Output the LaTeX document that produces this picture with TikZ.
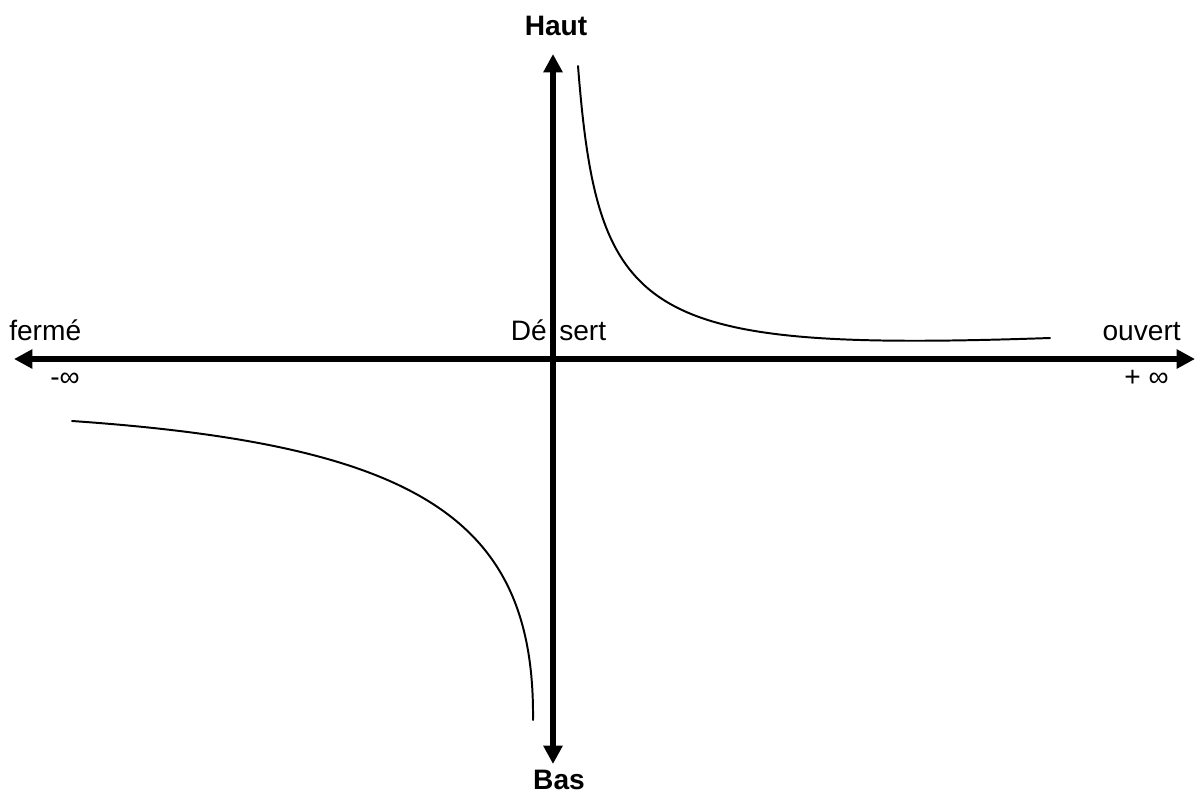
\documentclass[tikz,border=0pt]{standalone}
\usepackage{fontspec}
\setmainfont{Liberation Sans}
\usetikzlibrary{arrows.meta,positioning}
\tikzset{
  axisln/.style={{Triangle[length=13pt,width=13pt]}-{Triangle[length=13pt,width=13pt]}, line width=3.8pt},
  curveln/.style={line width=1.4pt, line cap=round, line join=round},
  lab/.style={inner sep=0pt, font=\fontsize{20}{24}\selectfont},
  blab/.style={lab, font=\fontsize{20}{24}\selectfont\bfseries},
}

\begin{document}
\begin{tikzpicture}[x=0.025cm, y=-0.025cm]
    \useasboundingbox (0,0) rectangle (1195,796);
    % ends of the two axes
    \coordinate (west) at (14,359);
    \coordinate (east) at (1195,359);
    \coordinate (top) at (553,54);
    \coordinate (bot) at (553,764);
    \draw[axisln] (west) -- (east);
    \draw[axisln] (bot) -- (top);
    % labels
    \node[blab, anchor=base] (haut) at (556,35) {Haut};
    \node[blab, anchor=base] (bas) at (559,789) {Bas};
    \node[lab, anchor=base west] (ferme) at (9,340) {fermé};
    \node[lab, anchor=base east] (ouvert) at (1181,340) {ouvert};
    \node[lab, anchor=base east] (de) at (547,340) {Dé};
    \node[lab, anchor=base west] (sert) at (559,340) {sert};
    \node[lab, anchor=base west] (minf) at (50,386) {-∞};
    \node[lab, anchor=base east] (pinf) at (1169,386) {+ ∞};
    % the two branches
    \coordinate (ua) at (578,66);
    \coordinate (ub) at (1050,338);
    \coordinate (la) at (72,421);
    \coordinate (lb) at (533,720);
    \draw[curveln] (ua) .. controls (598,320) and (640,352) .. (ub);
    \draw[curveln] (la) .. controls (420,445) and (535,520) .. (lb);
  \end{tikzpicture}
\end{document}
